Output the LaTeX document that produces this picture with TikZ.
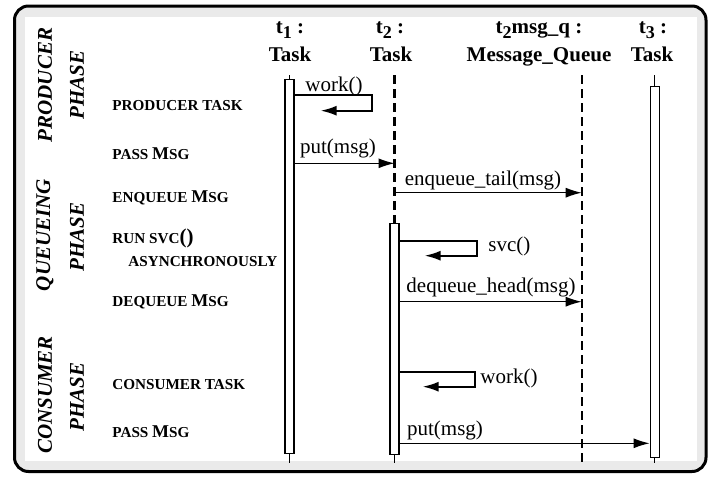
\documentclass[tikz,border=0pt]{standalone}
\usepackage{fontspec}
\setmainfont{Liberation Serif}
\usetikzlibrary{positioning, arrows.meta, calc}
\definecolor{FrameGray}{RGB}{234,234,234}
\newcommand{\lifesub}[1]{\raisebox{-2.5pt}{\fontsize{9}{9}\selectfont #1}}
\newcommand{\bigM}{{\fontsize{9}{9}\selectfont M}}

\begin{document}
\begin{tikzpicture}[x=0.5pt, y=-0.5pt,
    hdr/.style={font=\fontsize{10.5}{12}\selectfont\bfseries, anchor=base, inner sep=0pt},
    phase/.style={font=\fontsize{10.5}{12}\selectfont\bfseries\itshape, rotate=90, inner sep=0pt},
    stagelbl/.style={font=\fontsize{7.6}{8}\selectfont\bfseries, anchor=base west, inner sep=0pt},
    msglbl/.style={font=\fontsize{10.5}{12}\selectfont, anchor=base, inner sep=0pt},
    actbox/.style={draw, fill=white, line width=0.6pt, minimum width=4.5pt, inner sep=0pt, anchor=north},
    life/.style={line width=0.6pt},
    qlife/.style={line width=1.1pt, dash pattern=on 4.5pt off 2.5pt},
    msg/.style={line width=0.6pt, -{Latex[length=8pt, width=5pt]}},
    selfmsg/.style={line width=1pt, -{Latex[length=8pt, width=5pt]}}]
  \useasboundingbox (0,0) rectangle (713,477);
  % frame
  \draw[line width=1.5pt, rounded corners=7pt, fill=FrameGray] (14.5,6) rectangle (706,471.5);
  \fill[white] (25,17) rectangle (697,461);

  % phases
  \node[phase] (prodA) at (45,85) {PRODUCER};
  \node[phase] (prodB) at (77,85) {PHASE};
  \node[phase] (queuA) at (45,235) {QUEUEING};
  \node[phase] (queuB) at (77,237) {PHASE};
  \node[phase] (consA) at (45,395) {CONSUMER};
  \node[phase] (consB) at (77,397) {PHASE};

  % stages
  \node[stagelbl] (sProd) at (112,110) {PRODUCER TASK};
  \node[stagelbl] (sPass1) at (112,159) {PASS \bigM SG};
  \node[stagelbl] (sEnq) at (112,202) {ENQUEUE \bigM SG};
  \node[stagelbl] (sRun) at (112,243) {RUN SVC{\fontsize{10.5}{10}\selectfont()}};
  \node[stagelbl] (sAsync) at (128,266) {ASYNCHRONOUSLY};
  \node[stagelbl] (sDeq) at (112,306) {DEQUEUE \bigM SG};
  \node[stagelbl] (sCons) at (112,389) {CONSUMER TASK};
  \node[stagelbl] (sPass2) at (112,437) {PASS \bigM SG};

  % headers
  \node[hdr] (t1name) at (290,33) {t\lifesub{1} :};
  \node[hdr] (t1cls) at (290,61.7) {Task};
  \node[hdr] (t2name) at (390,33) {t\lifesub{2} :};
  \node[hdr] (t2cls) at (391,61.7) {Task};
  \node[hdr] (qname) at (539,33) {t\lifesub{2}msg\_q :};
  \node[hdr] (qcls) at (539,61.7) {Message\_Queue};
  \node[hdr] (t3name) at (653,33) {t\lifesub{3} :};
  \node[hdr] (t3cls) at (652,61.7) {Task};

  % lifelines
  \coordinate (t1top) at (289.5,75);
  \coordinate (t1bot) at (289.5,463);
  \coordinate (t2top) at (394.5,75);
  \coordinate (t2bot) at (394.5,463);
  \coordinate (qtop) at (581.7,75);
  \coordinate (qbot) at (581.7,463);
  \coordinate (t3top) at (654.7,75);
  \coordinate (t3bot) at (654.7,463);

  \draw[life] (t1top) -- (t1bot);
  \node[actbox, minimum height=187pt] (t1act) at (289.5,79) {};
  \draw[qlife] (t2top) -- (394.5,222.7);
  \node[actbox, minimum height=115.6pt] (t2act) at (394.5,222.7) {};
  \draw[life] (t2act.south) -- (t2bot);
  \draw[qlife] (qtop) -- (qbot);
  \draw[life] (t3top) -- (t3bot);
  \node[actbox, minimum height=185.3pt] (t3act) at (654.7,86) {};

  % messages
  \draw[selfmsg] (t1act.east |- 0,95) -- ++(77,0) -- ++(0,15.7) -- ++(-51,0);
  \node[msglbl] (mWork1) at (334,91.7) {work()};
  \draw[msg] (t1act.east |- 0,163.3) -- (t2top |- 0,163.3);
  \node[msglbl] (mPut1) at (338,153) {put(msg)};
  \draw[msg] (t2top |- 0,192.7) -- (qtop |- 0,192.7);
  \node[msglbl] (mEnq) at (483,185) {enqueue\_tail(msg)};
  \draw[selfmsg] (t2act.east |- 0,241) -- ++(77,0) -- ++(0,14.7) -- ++(-52,0);
  \node[msglbl, anchor=base west] (mSvc) at (488,251.7) {svc()};
  \draw[msg] (t2act.east |- 0,301.7) -- (qtop |- 0,301.7);
  \node[msglbl] (mDeq) at (491,292.7) {dequeue\_head(msg)};
  \draw[selfmsg] (t2act.east |- 0,371.7) -- ++(75,0) -- ++(0,15) -- ++(-52,0);
  \node[msglbl, anchor=base west] (mWork2) at (480,383) {work()};
  \draw[msg] (t2act.east |- 0,443.3) -- (t3act.west |- 0,443.3);
  \node[msglbl] (mPut2) at (445,435) {put(msg)};
\end{tikzpicture}
\end{document}
